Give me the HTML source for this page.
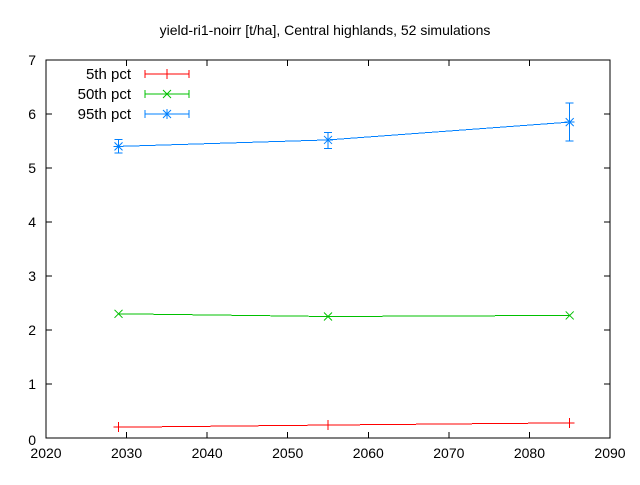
<!DOCTYPE html>
<html><head><meta charset="utf-8"><style>
body{margin:0;background:#fff;}
svg text{font-family:"Liberation Sans",sans-serif;font-size:14px;fill:#000;}
svg line,svg polyline,svg rect{shape-rendering:crispEdges;}
</style></head><body>
<svg id="chart" width="640" height="480" xmlns="http://www.w3.org/2000/svg">
<rect width="640" height="480" fill="#fff"/>
<text x="325" y="35" text-anchor="middle">yield-ri1-noirr [t/ha], Central highlands, 52 simulations</text>
<g id="axes"></g>
<g id="series"></g>
<g id="legend"></g>
</svg>
<script>
const years=[2029,2055,2085];
const p5=[0.2,0.24,0.28];
const p50=[2.3,2.25,2.27];
const p95=[5.4,5.52,5.85];
const p95lo=[5.28,5.36,5.5];
const p95hi=[5.53,5.66,6.2];
const xTicks=[2020,2030,2040,2050,2060,2070,2080,2090];
const yTicks=[0,1,2,3,4,5,6,7];
const L=46,R=610,T=60,B=438;
const X=v=>L+(v-2020)/70*(R-L);
const Y=v=>B-v/7*(B-T);
const NS="http://www.w3.org/2000/svg";
function mk(p,t,a){const e=document.createElementNS(NS,t);for(const k in a)e.setAttribute(k,a[k]);p.appendChild(e);return e;}
const ax=document.getElementById('axes');
const frame=mk(ax,'rect',{x:L,y:T,width:R-L,height:B-T,fill:'none',stroke:'#000','stroke-width':1});


xTicks.forEach(v=>{
 const x=X(v);
 mk(ax,'line',{x1:x,y1:B,x2:x,y2:B-6,stroke:'#000'});
 mk(ax,'line',{x1:x,y1:T,x2:x,y2:T+6,stroke:'#000'});
 const t=mk(ax,'text',{x:x,y:B+20,'text-anchor':'middle'});t.textContent=v;
 
 
});
yTicks.forEach(v=>{
 const y=Y(v);
 mk(ax,'line',{x1:L,y1:y,x2:L+6,y2:y,stroke:'#000'});
 mk(ax,'line',{x1:R,y1:y,x2:R-6,y2:y,stroke:'#000'});
 const t=mk(ax,'text',{x:L-10,y:y+5+(v===0?2:0),'text-anchor':'end'});t.textContent=v;
 
 
});
const sg=document.getElementById('series');
function marker(g,type,x,y,c){
 if(type==='plus'||type==='star'){mk(g,'line',{x1:x-5,y1:y,x2:x+5,y2:y,stroke:c});mk(g,'line',{x1:x,y1:y-5,x2:x,y2:y+5,stroke:c});}
 if(type==='x'||type==='star'){mk(g,'line',{x1:x-4,y1:y-4,x2:x+4,y2:y+4,stroke:c,style:'shape-rendering:auto'});mk(g,'line',{x1:x-4,y1:y+4,x2:x+4,y2:y-4,stroke:c,style:'shape-rendering:auto'});}
}
function series(name,vals,c,type,lo,hi){
 const g=mk(sg,'g',{});
 
 
 mk(g,'polyline',{points:years.map((y,i)=>X(y)+','+Y(vals[i])).join(' '),fill:'none',stroke:c,'stroke-width':1});
 years.forEach((yr,i)=>{
  const x=X(yr);
  if(lo){mk(g,'line',{x1:x,y1:Y(lo[i]),x2:x,y2:Y(hi[i]),stroke:c});
   mk(g,'line',{x1:x-4,y1:Y(lo[i]),x2:x+4,y2:Y(lo[i]),stroke:c});
   mk(g,'line',{x1:x-4,y1:Y(hi[i]),x2:x+4,y2:Y(hi[i]),stroke:c});}
  marker(g,type,x,Y(vals[i]),c);
 });
}
series('series-5th-pct',p5,'#ff0000','plus');
series('series-50th-pct',p50,'#00c000','x');
series('series-95th-pct',p95,'#0080ff','star',p95lo,p95hi);
const lg=document.getElementById('legend');
[['5th pct','#ff0000','plus'],['50th pct','#00c000','x'],['95th pct','#0080ff','star']].forEach((e,i)=>{
 const y=74+i*20;
 const g=mk(lg,'g',{});
 
 
 const t=mk(g,'text',{x:131,y:y+5,'text-anchor':'end',style:'font-size:15px'});t.textContent=e[0];
 mk(g,'line',{x1:145,y1:y,x2:189,y2:y,stroke:e[1]});
 mk(g,'line',{x1:145,y1:y-4,x2:145,y2:y+4,stroke:e[1]});
 mk(g,'line',{x1:189,y1:y-4,x2:189,y2:y+4,stroke:e[1]});
 marker(g,e[2],167,y,e[1]);
});
</script>
</body></html>
